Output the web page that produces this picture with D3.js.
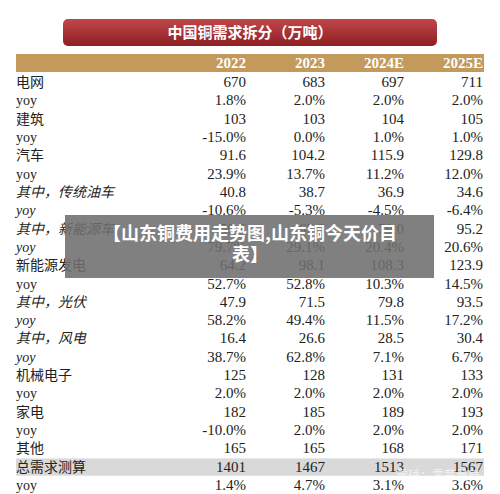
<!DOCTYPE html>
<html><head><meta charset="utf-8">
<script src="https://cdn.jsdelivr.net/npm/d3@7"></script>
<style>body{margin:0;background:#fff}</style></head>
<body><svg id="c" width="500" height="494"></svg>
<script>
const title = "中国铜需求拆分（万吨）";
const years = ["2022","2023","2024E","2025E"];
const labels = ["电网","yoy","建筑","yoy","汽车","yoy","其中，传统油车","yoy","其中，新能源车","yoy","新能源发电","yoy","其中，光伏","yoy","其中，风电","yoy","机械电子","yoy","家电","yoy","其他","总需求测算","yoy"];
const italicRows = [6,7,8,9,12,13,14,15];
const v2022 = ["670","1.8%","103","-15.0%","91.6","23.9%","40.8","-10.6%","50.8","79.7%","64.2","52.7%","47.9","58.2%","16.4","38.7%","125","2.0%","182","-10.0%","165","1401","1.4%"];
const v2023 = ["683","2.0%","103","0.0%","104.2","13.7%","38.7","-5.3%","65.5","29.1%","98.1","52.8%","71.5","49.4%","26.6","62.8%","128","2.0%","185","2.0%","165","1467","4.7%"];
const v2024 = ["697","2.0%","104","1.0%","115.9","11.2%","36.9","-4.5%","79.0","20.4%","108.3","10.3%","79.8","11.5%","28.5","7.1%","131","2.0%","189","2.0%","168","1513","3.1%"];
const v2025 = ["711","2.0%","105","1.0%","129.8","12.0%","34.6","-6.4%","95.2","20.6%","123.9","14.5%","93.5","17.2%","30.4","6.7%","133","2.0%","193","2.0%","171","1567","3.6%"];
const overlayText = ["【山东铜费用走势图,山东铜今天价目","表】"];
const cols = [v2022,v2023,v2024,v2025];

const svg = d3.select("#c");
const defs = svg.append("defs");
const g = defs.append("linearGradient").attr("id","rg").attr("x1",0).attr("y1",0).attr("x2",0).attr("y2",1);
g.append("stop").attr("offset","0").attr("stop-color","#c0474a");
g.append("stop").attr("offset","1").attr("stop-color","#8e1f22");
svg.append("rect").attr("x",63).attr("y",19).attr("width",374).attr("height",27).attr("rx",5).attr("fill","url(#rg)");
svg.append("text").attr("x",250).attr("y",38).attr("text-anchor","middle").attr("fill","#fff")
  .attr("font-family","Noto Sans CJK SC").attr("font-weight","bold").attr("font-size",15).text(title);

const x = d3.scalePoint().domain(years).range([246,483]);
const y = d3.scaleBand().domain(d3.range(labels.length)).range([73,494]);

svg.append("rect").attr("x",16).attr("y",54).attr("width",468).attr("height",18).attr("fill","#c49a5c");
svg.selectAll(".yr").data(years).join("text").attr("x",d=>x(d)).attr("y",68).attr("text-anchor","end")
  .attr("fill","#fff").attr("font-family","Liberation Serif").attr("font-weight","bold").attr("font-size",15).text(d=>d);

svg.append("rect").attr("x",16).attr("y",y(21)+1).attr("width",468).attr("height",y.bandwidth()-1).attr("fill","#d9d9d9");

svg.selectAll(".lb").data(labels).join("text").attr("x",16).attr("y",(d,i)=>y(i)+y.bandwidth()/2+5)
  .attr("font-family",d=>d==="yoy"?"Liberation Serif":"Noto Sans CJK SC")
  .attr("font-style",(d,i)=>italicRows.includes(i)?"italic":"normal")
  .attr("font-size",14).attr("fill","#222").text(d=>d);

cols.forEach((c,ci)=>{
  svg.selectAll(".v"+ci).data(c).join("text").attr("x",x(years[ci])).attr("y",(d,i)=>y(i)+y.bandwidth()/2+5)
    .attr("text-anchor","end").attr("font-family","Liberation Serif").attr("font-size",15).attr("fill","#222").text(d=>d);
});

svg.append("text").attr("x",480).attr("y",480).attr("text-anchor","end").attr("fill","#fff").attr("opacity",0.7)
  .attr("font-family","Noto Sans CJK SC").attr("font-size",12).text("雪球：零薪量局");

svg.append("rect").attr("x",65).attr("y",215).attr("width",369).attr("height",63).attr("fill","#6e6e6e").attr("opacity",0.88);
svg.selectAll(".ov").data(overlayText).join("text").attr("x",250).attr("y",(d,i)=>240+i*21).attr("text-anchor","middle")
  .attr("fill","#fff").attr("font-family","Noto Sans CJK SC").attr("font-weight","bold").attr("font-size",18).text(d=>d);
</script></body></html>
